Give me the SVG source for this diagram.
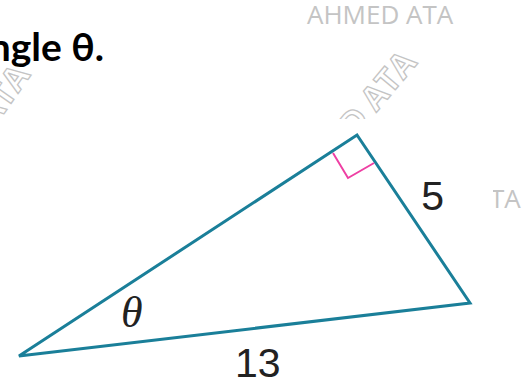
<svg xmlns="http://www.w3.org/2000/svg" width="530" height="385" viewBox="0 0 530 385">
<style>
.wm{font-family:"Open Sans","DejaVu Sans",sans-serif;font-size:26px;fill:#c4c4c4}
.wmo{font-family:"Open Sans","DejaVu Sans",sans-serif;font-size:33px;fill:#fff;stroke:#c4c4c4;stroke-width:1.3;font-weight:bold}
.title{font-family:Lato,"Liberation Sans",sans-serif;font-size:39px;font-weight:bold;fill:#000}
.edge{fill:none;stroke:#1a7f99;stroke-width:3;stroke-linejoin:miter}
.ra{fill:none;stroke:#ee3fa3;stroke-width:2}
.lbl{font-family:"Liberation Sans",Arial,sans-serif;font-size:41px;fill:#222}
.ang{font-family:"Liberation Serif","Times New Roman",serif;font-style:italic;font-size:44px;fill:#222}
</style>
<defs>
<clipPath id="topclip"><rect x="0" y="0" width="530" height="119"/></clipPath>
<clipPath id="taclip"><rect x="493" y="0" width="37" height="385"/></clipPath>
</defs>
<rect width="530" height="385" fill="#fff"/>
<g id="watermarks">
<text class="wm" x="307" y="24">AHMED ATA</text>
<g clip-path="url(#topclip)">
<text class="wmo" transform="translate(355,138) rotate(-50)">D ATA</text>
<text class="wmo" transform="translate(-6,128) rotate(-55)">ATA</text>
</g>
<text class="wm" x="490" y="208" clip-path="url(#taclip)">TA</text>
</g>
<g id="title">
<text class="title" x="104" y="61" text-anchor="end">ngle θ.</text>
</g>
<g id="connectors">
<polygon class="edge" points="19,356 357,135 470,303"/>
<polyline class="ra" points="333,153 348,178 374,163"/>
</g>
<g id="labels">
<text class="lbl" x="444" y="210" text-anchor="end">5</text>
<text class="lbl" x="235" y="377">13</text>
<text class="ang" x="121" y="327">θ</text>
</g>
</svg>
